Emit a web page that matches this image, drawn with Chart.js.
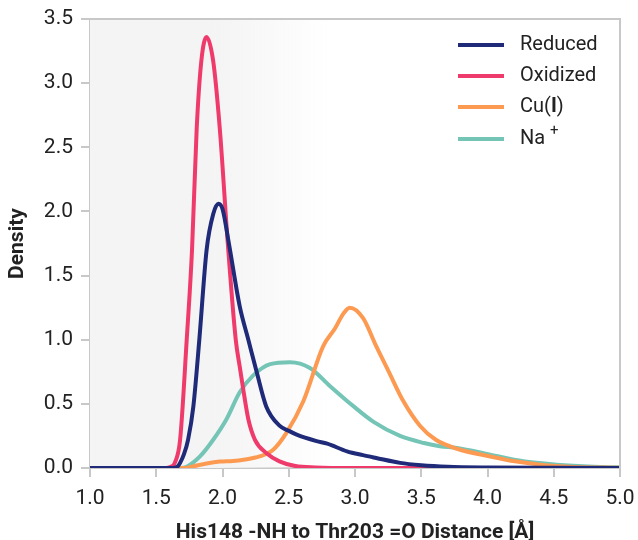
<!DOCTYPE html>
<html>
<head>
<meta charset="utf-8">
<script src="https://cdn.jsdelivr.net/npm/chart.js@4.4.1/dist/chart.umd.min.js"></script>
<style>
  html, body { margin: 0; padding: 0; background: #fff; }
  #wrap { width: 638px; height: 540px; }
</style>
</head>
<body>
<div id="wrap"><canvas id="densityChart" width="638" height="540"></canvas></div>
<script>
// Datos (distancia en Å, densidad)
const seriesNames = ['Reduced', 'Oxidized', 'Cu(I)', 'Na+'];
const seriesColors = ['#1f2a78', '#ef3b6b', '#fd9a52', '#74c5b6'];

const reducedX = [1.0, 1.62, 1.66, 1.68, 1.71, 1.74, 1.78, 1.825, 1.88, 1.93, 1.97, 2.0, 2.05, 2.13, 2.195, 2.26, 2.33, 2.43, 2.5, 2.56, 2.71, 2.79, 2.94, 3.06, 3.16, 3.34, 3.5, 3.7, 4.0, 4.5, 5.0];
const reducedY = [0, 0, 0.01, 0.04, 0.11, 0.22, 0.48, 1.0, 1.70, 1.98, 2.06, 2.02, 1.74, 1.26, 1.0, 0.74, 0.48, 0.33, 0.29, 0.26, 0.21, 0.19, 0.13, 0.10, 0.078, 0.04, 0.022, 0.01, 0.004, 0.001, 0];

const oxidizedX = [1.0, 1.57, 1.61, 1.64, 1.68, 1.73, 1.77, 1.805, 1.84, 1.88, 1.93, 1.98, 2.04, 2.10, 2.13, 2.157, 2.195, 2.245, 2.33, 2.43, 2.55, 2.7, 3.0, 5.0];
const oxidizedY = [0, 0, 0.01, 0.04, 0.22, 1.0, 1.70, 2.64, 3.17, 3.36, 3.17, 2.64, 1.75, 1.0, 0.79, 0.61, 0.38, 0.22, 0.117, 0.052, 0.015, 0.004, 0, 0];

const cuX = [1.0, 1.72, 1.78, 1.88, 1.98, 2.08, 2.16, 2.28, 2.38, 2.48, 2.61, 2.76, 2.85, 2.91, 2.96, 3.06, 3.16, 3.26, 3.36, 3.49, 3.61, 3.77, 4.02, 4.22, 4.4, 4.65, 5.0];
const cuY = [0, 0, 0.013, 0.035, 0.05, 0.055, 0.065, 0.09, 0.14, 0.27, 0.52, 0.95, 1.09, 1.20, 1.25, 1.17, 0.95, 0.74, 0.53, 0.33, 0.22, 0.15, 0.09, 0.05, 0.025, 0.008, 0.002];

const naX = [1.0, 1.68, 1.73, 1.83, 1.93, 2.03, 2.13, 2.23, 2.36, 2.51, 2.66, 2.81, 2.99, 3.14, 3.34, 3.52, 3.64, 3.77, 4.02, 4.27, 4.52, 4.8, 5.0];
const naY = [0, 0, 0.01, 0.09, 0.22, 0.38, 0.59, 0.72, 0.81, 0.825, 0.78, 0.64, 0.48, 0.36, 0.25, 0.195, 0.17, 0.156, 0.104, 0.052, 0.026, 0.01, 0.005];

const xTicks = [1.0, 1.5, 2.0, 2.5, 3.0, 3.5, 4.0, 4.5, 5.0];
const yTicks = [0.0, 0.5, 1.0, 1.5, 2.0, 2.5, 3.0, 3.5];

const xsList = [reducedX, oxidizedX, cuX, naX];
const ysList = [reducedY, oxidizedY, cuY, naY];

function toPoints(xs, ys) {
    return xs.map((x, i) => ({ x: x, y: ys[i] }));
}

const FONT = 'Roboto, "Noto Sans", sans-serif';
const TEXT = '#222222';
const FRAME = '#c8c8c8';

// fondo gris que se desvanece hacia la derecha
const shadePlugin = {
    id: 'shade',
    beforeDatasetsDraw(chart) {
        const { ctx, chartArea, scales } = chart;
        const x0 = scales.x.getPixelForValue(1.95);
        const x1 = scales.x.getPixelForValue(2.8);
        const grad = ctx.createLinearGradient(x0, 0, x1, 0);
        grad.addColorStop(0, 'rgba(244,244,244,1)');
        grad.addColorStop(1, 'rgba(244,244,244,0)');
        ctx.save();
        ctx.fillStyle = 'rgba(244,244,244,1)';
        ctx.fillRect(chartArea.left, chartArea.top, x0 - chartArea.left, chartArea.bottom - chartArea.top);
        ctx.fillStyle = grad;
        ctx.fillRect(x0, chartArea.top, x1 - x0, chartArea.bottom - chartArea.top);
        ctx.restore();
    }
};

// marco completo + leyenda propia
const framePlugin = {
    id: 'frame',
    afterDatasetsDraw(chart) {
        const { ctx, chartArea } = chart;
        ctx.save();
        ctx.strokeStyle = FRAME;
        ctx.lineWidth = 2;
        ctx.beginPath();
        ctx.moveTo(chartArea.left, chartArea.top);
        ctx.lineTo(chartArea.right, chartArea.top);
        ctx.lineTo(chartArea.right, chartArea.bottom);
        ctx.stroke();

        // leyenda
        const lx = 458, tx = 520;
        const rows = [45, 76, 107, 139];
        ctx.textBaseline = 'middle';
        ctx.fillStyle = TEXT;
        seriesNames.forEach((name, i) => {
            const y = rows[i];
            ctx.strokeStyle = seriesColors[i];
            ctx.lineWidth = 4;
            ctx.beginPath();
            ctx.moveTo(lx, y);
            ctx.lineTo(lx + 46, y);
            ctx.stroke();
            ctx.font = '20px ' + FONT;
            if (name === 'Cu(I)') {
                let x = tx;
                ctx.fillText('Cu(', x, y);
                x += ctx.measureText('Cu(').width;
                ctx.font = 'bold 20px ' + FONT;
                ctx.fillText('I', x, y);
                x += ctx.measureText('I').width;
                ctx.font = '20px ' + FONT;
                ctx.fillText(')', x, y);
            } else if (name === 'Na+') {
                ctx.fillText('Na', tx, y);
                const w = ctx.measureText('Na ').width;
                ctx.font = '15px ' + FONT;
                ctx.fillText('+', tx + w, y - 8);
            } else {
                ctx.fillText(name, tx, y);
            }
        });
        ctx.restore();
    }
};

const datasets = seriesNames.map((name, i) => ({
    label: name,
    data: toPoints(xsList[i], ysList[i]),
    borderColor: seriesColors[i],
    borderWidth: 4,
    pointRadius: 0,
    showLine: true,
    fill: false,
    cubicInterpolationMode: 'monotone'
}));

new Chart(document.getElementById('densityChart').getContext('2d'), {
    type: 'scatter',
    data: { datasets: datasets },
    options: {
        responsive: false,
        animation: false,
        layout: { padding: { top: 19, right: 18, left: 0, bottom: 0 } },
        plugins: {
            legend: { display: false },
            tooltip: { enabled: false }
        },
        scales: {
            x: {
                type: 'linear',
                min: 1,
                max: 5,
                afterFit: s => { s.height = 72; s.paddingLeft = 0; s.paddingRight = 0; },
                afterBuildTicks: s => { s.ticks = xTicks.map(v => ({ value: v })); },
                ticks: {
                    color: TEXT,
                    padding: 9,
                    minRotation: 0,
                    maxRotation: 0,
                    font: { family: FONT, size: 21 },
                    callback: v => Number(v).toFixed(1)
                },
                grid: { drawOnChartArea: false, drawTicks: true, tickLength: 9, color: FRAME, lineWidth: 2 },
                border: { color: FRAME, width: 2 },
                title: {
                    display: true,
                    text: 'His148 -NH to Thr203 =O Distance [Å]',
                    color: TEXT,
                    font: { family: FONT, size: 21, weight: 'bold' },
                    padding: { top: 0, bottom: -5 }
                }
            },
            y: {
                type: 'linear',
                min: 0,
                max: 3.5,
                afterFit: s => { s.width = 90; s.paddingTop = 0; s.paddingBottom = 0; },
                afterBuildTicks: s => { s.ticks = yTicks.map(v => ({ value: v })); },
                ticks: {
                    color: TEXT,
                    padding: 8,
                    font: { family: FONT, size: 21 },
                    callback: v => Number(v).toFixed(1)
                },
                grid: { drawOnChartArea: false, drawTicks: true, tickLength: 9, color: FRAME, lineWidth: 2 },
                border: { color: FRAME, width: 2 },
                title: {
                    display: true,
                    text: 'Density',
                    color: TEXT,
                    font: { family: FONT, size: 21, weight: 'bold' },
                    padding: { top: 5, bottom: 0 }
                }
            }
        }
    },
    plugins: [shadePlugin, framePlugin]
});
</script>
</body>
</html>
